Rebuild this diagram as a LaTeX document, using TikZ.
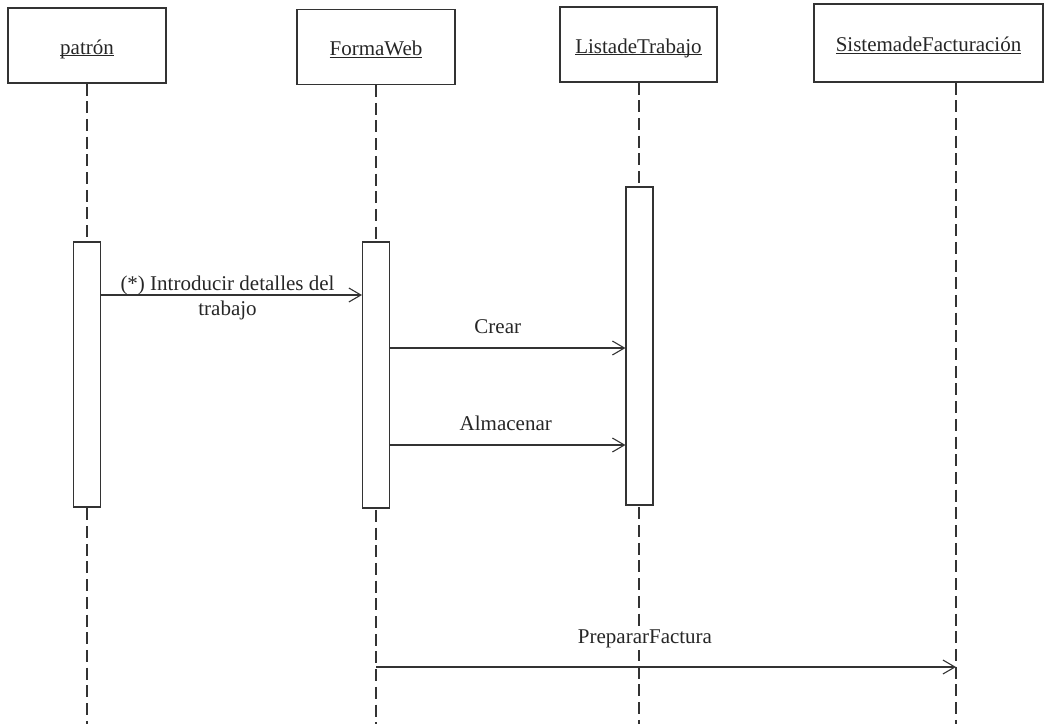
\documentclass[tikz,border=0pt]{standalone}
\usepackage{fontspec}
\setmainfont{Liberation Serif}
\usetikzlibrary{arrows.meta}
\newcommand\myul[1]{\setbox0\hbox{#1}\rlap{\rule[-2pt]{\wd0}{0.9pt}}\box0}
\newcommand\objtext[1]{\raisebox{-8.5pt}[0pt][0pt]{\myul{#1}}}
\begin{document}
\begin{tikzpicture}[x=1pt,y=-1pt,
  every node/.style={font=\fontsize{21}{25}\selectfont, text=black!85},
  objbox/.style={draw=black!80, line width=1.1pt, minimum height=75pt, inner sep=0pt},
  actbox/.style={draw=black!80, line width=1.1pt, fill=white, minimum width=27pt, inner sep=0pt},
  lifeline/.style={draw=black!80, line width=1.1pt, dash pattern=on 12pt off 5.7pt},
  msg/.style={draw=black!80, line width=1.1pt, -{Straight Barb[length=12pt,width=14pt,line width=1.1pt]}},
  lbl/.style={inner sep=0pt}]
\useasboundingbox (0,0) rectangle (1047,724);
% object boxes
\node[objbox, minimum width=158pt] (p) at (87,45.5) {\objtext{patrón}};
\node[objbox, minimum width=158pt] (f) at (376,47) {\objtext{FormaWeb}};
\node[objbox, minimum width=157pt] (l) at (638.5,44.5) {\objtext{ListadeTrabajo}};
\node[objbox, minimum width=229pt, minimum height=78pt] (s) at (928.5,43) {\objtext{SistemadeFacturación}};
% lifeline ends
\coordinate (pe) at (87,724);
\coordinate (fe) at (376,724);
\coordinate (le) at (639,724);
\coordinate (se) at (956,724);
\draw[lifeline] (p.south) -- (pe);
\draw[lifeline] (f.south) -- (fe);
\draw[lifeline] (l.south -| le) -- (le);
\draw[lifeline] (s.south -| se) -- (se);
% activation boxes
\node[actbox, minimum height=265pt] (pa) at (87,374.5) {};
\node[actbox, minimum height=266pt] (fa) at (376,375) {};
\node[actbox, minimum height=318pt] (la) at (639.5,346) {};
% message heights
\coordinate (m1) at (0,295);
\coordinate (m2) at (0,348);
\coordinate (m3) at (0,445);
\coordinate (m4) at (0,667);
\draw[msg] (pa.east |- m1) -- node[lbl, align=center, yshift=-3pt, xshift=-4pt] {(*) Introducir detalles del\\trabajo} (fa.west |- m1);
\draw[msg] (fa.east |- m2) -- node[lbl, above=14pt, xshift=-10pt] {Crear} (la.west |- m2);
\draw[msg] (fa.east |- m3) -- node[lbl, above=14pt, xshift=-2pt] {Almacenar} (la.west |- m3);
\draw[msg] (f.south |- m4) -- node[lbl, above=16pt, xshift=-21pt, fill=white, inner sep=2pt] {PrepararFactura} (se |- m4);
\end{tikzpicture}
\end{document}
